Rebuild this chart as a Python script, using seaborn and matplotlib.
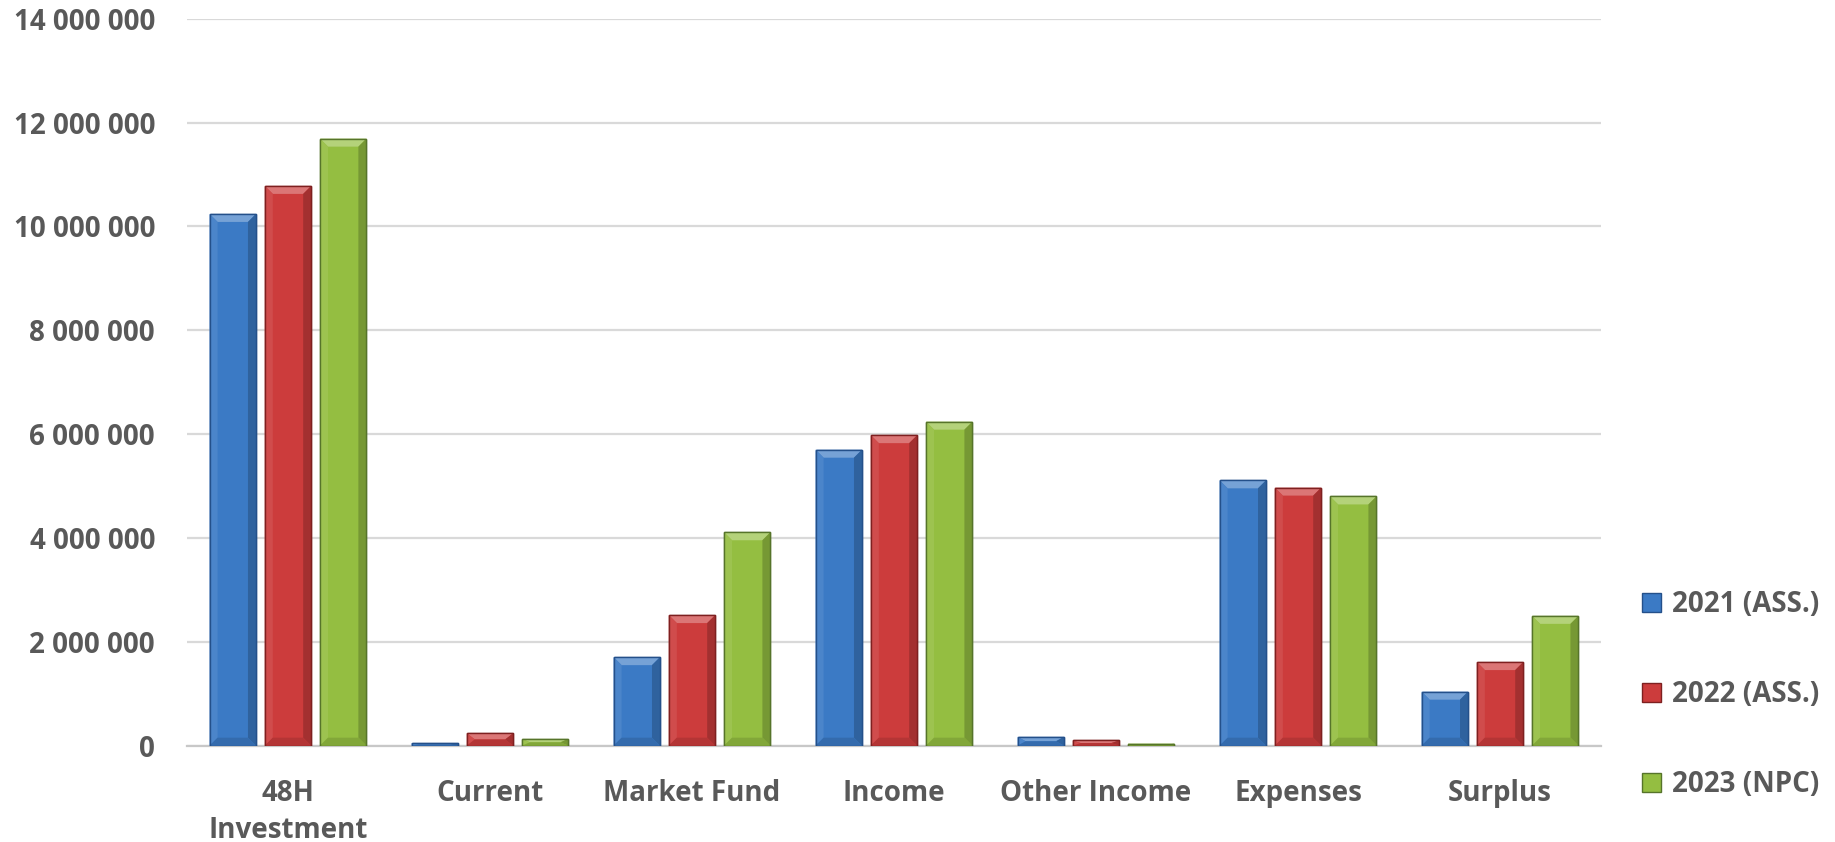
import pandas as pd
import matplotlib.pyplot as plt
import seaborn as sns
from matplotlib.patches import Patch
from matplotlib.ticker import FuncFormatter
from matplotlib.colors import to_rgb

# Data
categories = ["48H\nInvestment", "Current", "Market Fund", "Income",
              "Other Income", "Expenses", "Surplus"]
series = ["2021 (ASS.)", "2022 (ASS.)", "2023 (NPC)"]
vals_2021 = [10240000, 50000, 1705000, 5700000, 170000, 5110000, 1040000]
vals_2022 = [10780000, 240000, 2515000, 5980000, 100000, 4970000, 1610000]
vals_2023 = [11690000, 130000, 4110000, 6240000, 40000, 4800000, 2500000]

colors = ["#3B7AC5", "#CC3C3C", "#94BE41"]
edges = ["#24508A", "#7E2020", "#56742A"]

df = pd.DataFrame({
    "category": categories * 3,
    "series": [series[0]] * 7 + [series[1]] * 7 + [series[2]] * 7,
    "value": vals_2021 + vals_2022 + vals_2023,
})

sns.set_style("white")
plt.rcParams["font.family"] = ["Open Sans", "DejaVu Sans"]
text_col = "#595959"


def shade(c, f):
    r, g, b = to_rgb(c)
    if f > 0:
        return (r + (1 - r) * f, g + (1 - g) * f, b + (1 - b) * f)
    return (r * (1 + f), g * (1 + f), b * (1 + f))


fig = plt.figure(figsize=(18.35, 8.42), dpi=100)
ax = fig.add_axes([0.1019, 0.1144, 0.7706, 0.8634])

sns.barplot(data=df, x="category", y="value", hue="series", order=categories,
            hue_order=series, palette=colors, saturation=1, width=0.82, gap=0.16,
            ax=ax, legend=False, zorder=3)

ax.set_ylim(0, 14000000)
ax.set_xlim(-0.5, 6.5)

# bevel look like the Excel bars
fig.canvas.draw()
px_x = (ax.transData.transform((1, 0))[0] - ax.transData.transform((0, 0))[0])
px_y = (ax.transData.transform((0, 1e6))[1] - ax.transData.transform((0, 0))[1]) / 1e6
bev = 8
for i, cont in enumerate(ax.containers):
    base = colors[i]
    for bar in cont:
        bar.set_edgecolor(edges[i])
        bar.set_linewidth(1.0)
        x0, w = bar.get_x(), bar.get_width()
        y0, h = bar.get_y(), bar.get_height()
        x1, y1 = x0 + w, y0 + h
        dx = bev / px_x
        dy = min(bev / px_y, h / 2)
        kw = dict(zorder=3.5, linewidth=0)
        ax.fill([x0, x1, x1 - dx, x0 + dx], [y1, y1, y1 - dy, y1 - dy],
                color=shade(base, 0.3), **kw)
        ax.fill([x0, x0 + dx, x0 + dx, x0], [y0, y0 + dy, y1 - dy, y1],
                color=shade(base, 0.08), **kw)
        ax.fill([x1, x1 - dx, x1 - dx, x1], [y0, y0 + dy, y1 - dy, y1],
                color=shade(base, -0.2), **kw)
        ax.fill([x0, x1, x1 - dx, x0 + dx], [y0, y0, y0 + dy, y0 + dy],
                color=shade(base, -0.12), **kw)
        ax.fill([x0, x1, x1, x0], [y0, y0, y1, y1], facecolor="none",
                edgecolor=edges[i], linewidth=1.0, zorder=3.6)

ax.set_yticks(range(0, 14000001, 2000000))
ax.yaxis.set_major_formatter(FuncFormatter(lambda v, p: f"{int(v):,}".replace(",", " ")))
ax.grid(axis="y", color="#D9D9D9", linewidth=1.6, zorder=0)
ax.set_axisbelow(True)
for s in ["top", "right", "left"]:
    ax.spines[s].set_visible(False)
ax.spines["bottom"].set_color("#C8C8C8")
ax.spines["bottom"].set_linewidth(1.6)
ax.tick_params(axis="both", length=0, labelsize=20, colors=text_col)
ax.tick_params(axis="y", pad=23)
ax.tick_params(axis="x", pad=24)
for lab in ax.get_xticklabels() + ax.get_yticklabels():
    lab.set_fontweight("bold")
    lab.set_linespacing(1.35)
ax.set_xlabel("")
ax.set_ylabel("")

handles = [Patch(facecolor=colors[i], edgecolor=edges[i], label=series[i]) for i in range(3)]
leg = fig.legend(handles=handles, loc="center left", bbox_to_anchor=(0.881, 0.175),
                 frameon=False, fontsize=20, labelspacing=2.2, handlelength=0.7,
                 handleheight=0.7, handletextpad=0.4)
for t in leg.get_texts():
    t.set_color(text_col)
    t.set_fontweight("bold")

fig.savefig("out.png", dpi=100)
